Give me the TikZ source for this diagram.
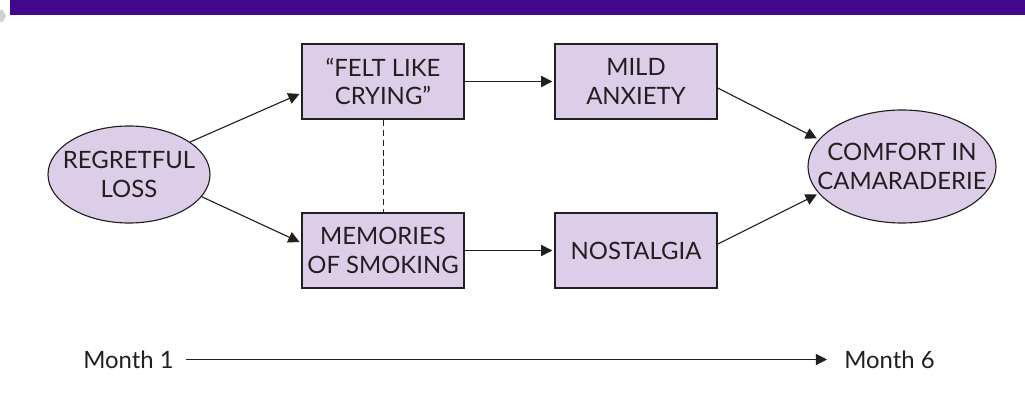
\documentclass[tikz,border=0pt]{standalone}
\usepackage{fontspec}
\setmainfont{Lato}
\usetikzlibrary{arrows.meta,shapes.geometric}
\definecolor{lilac}{RGB}{220,205,232}
\definecolor{banner}{RGB}{66,8,140}
\definecolor{ink}{RGB}{35,31,32}

\begin{document}
\begin{tikzpicture}[
        font=\fontsize{17}{20.2}\selectfont, text=ink,
        box/.style={draw=ink, fill=lilac, line width=0.8pt, minimum width=4.05cm, minimum height=1.875cm, inner sep=0pt, align=center},
        oval/.style={ellipse, draw=ink, fill=lilac, line width=0.8pt, inner sep=0pt},
        ovaltext/.style={align=center, inner sep=0pt},
        monthtext/.style={inner sep=0pt},
        flow/.style={draw=ink, line width=0.8pt, shorten >=1.5pt, -{Triangle[length=0.28cm,width=0.28cm]}}]
        \useasboundingbox (0, 0) rectangle (25.625, 9.95);

        \fill [banner] (0.25, 9.5825) rectangle (25.625, 9.95);
        \fill [gray!35] (0, 9.7) -- (0.075, 9.7) -- (0.15, 9.55) -- (0.075, 9.4) -- (0, 9.4) -- cycle;

        \node [oval, minimum width=4.05cm, minimum height=2.425cm] (loss) at (3.225, 5.5875) {};
        \node [ovaltext] (losstext) at (loss) {REGRETFUL\\LOSS};
        \node [box] (felt) at (9.575, 7.9125) {“FELT LIKE\\CRYING”};
        \node [box] (memo) at (9.575, 3.6875) {MEMORIES\\OF SMOKING};
        \node [box] (mild) at (15.9, 7.9125) {MILD\\ANXIETY};
        \node [box] (nost) at (15.9, 3.6875) {NOSTALGIA};
        \node [oval, minimum width=4.7cm, minimum height=2.825cm] (comfort) at (22.55, 5.7875) {};
        \node [ovaltext] (comforttext) at (comfort) {COMFORT IN\\CAMARADERIE};

        \draw [ink, line width=0.7pt, dash pattern=on 4.3pt off 2.8pt] (felt) -- (memo);

        \draw [flow] (loss.28) -- ([yshift=-0.29cm]felt.west);
        \draw [flow] (loss.-17) -- ([yshift=0.19cm]memo.west);
        \foreach \a/\b in {felt/mild, memo/nost} {
            \draw [flow] (\a) -- (\b);
        }
        \draw [flow] ([yshift=-0.16cm]mild.east) -- (comfort.162);
        \draw [flow] ([yshift=0.16cm]nost.east) -- (comfort.198);

        \node [monthtext] (m1) at (3.2125, 0.9625) {Month 1};
        \node [monthtext] (m6) at (22.2375, 0.9625) {Month 6};
        \draw [flow, shorten <=0.3cm, shorten >=0.425cm] (m1) -- (m6);
    \end{tikzpicture}
\end{document}
